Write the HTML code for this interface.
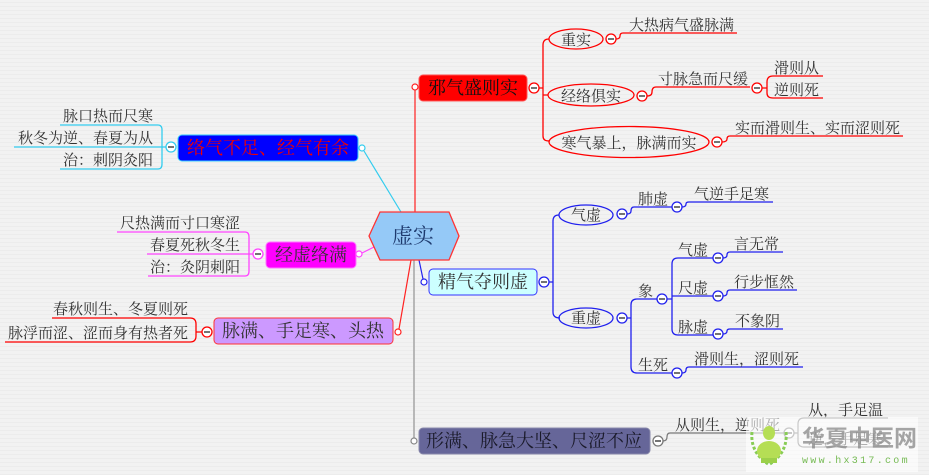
<!DOCTYPE html>
<html><head><meta charset="utf-8"><style>
html,body{margin:0;padding:0;background:#f1f1f1;}
svg{display:block}
text{font-family:"Liberation Serif","Noto Serif CJK SC",serif;fill:#333;}
.n{font-size:18px;text-anchor:middle;}
.l{font-size:15px;}
.e{font-size:15px;text-anchor:end;}
.c{font-size:15px;text-anchor:middle;}
</style></head><body>
<svg width="929" height="475" viewBox="0 0 929 475" xmlns="http://www.w3.org/2000/svg">
<defs>
<pattern id="bg" width="4" height="4" patternUnits="userSpaceOnUse">
<rect width="4" height="4" fill="#f2f2f2"/><rect y="2" width="4" height="1" fill="#ececec"/>
</pattern>
</defs>
<rect width="929" height="475" fill="url(#bg)"/>

<!-- center connectors -->
<g fill="none" stroke-width="1.2">
<line x1="415" y1="212" x2="415" y2="90" stroke="#ff2222"/>
<line x1="401" y1="212" x2="364" y2="151" stroke="#33ccee"/>
<line x1="378" y1="245" x2="362" y2="253" stroke="#ff44ff"/>
<line x1="411" y1="260" x2="399" y2="329" stroke="#ff2222"/>
<line x1="419" y1="260" x2="423" y2="279" stroke="#2222ee"/>
<line x1="414" y1="260" x2="414" y2="438" stroke="#aaaaaa" stroke-width="1.6"/>
</g>
<g fill="#fff" stroke-width="1.2">
<circle cx="415" cy="87" r="3" stroke="#ff2222"/>
<circle cx="362" cy="148" r="3" stroke="#33ccee"/>
<circle cx="359" cy="254" r="3" stroke="#ff44ff"/>
<circle cx="398" cy="332" r="3" stroke="#ff2222"/>
<circle cx="424" cy="282" r="3" stroke="#2222ee"/>
<circle cx="414" cy="441" r="3" stroke="#888"/>
</g>

<!-- hexagon -->
<polygon points="369,236 380,212 449,212 459,236 449,260 380,260" fill="#95c9f7" stroke="#ff3333" stroke-width="1.3"/>
<text x="413" y="243" style="font-size:21px;text-anchor:middle;fill:#1e3a6e">虚实</text>

<!-- ===== Red top branch ===== -->
<rect x="419" y="75" width="108" height="26" rx="4" fill="#ff0000" stroke="#ff5555"/>
<text class="n" x="473" y="94" style="fill:#111">邪气盛则实</text>
<g fill="none" stroke="#ff0000" stroke-width="1.3">
<path d="M539,88 L543,88 M549,39 Q543,39 543,45 L543,136 Q543,141 549,141 M543,95 L548,95"/>
<ellipse cx="576" cy="39" rx="27" ry="10"/>
<ellipse cx="591" cy="95" rx="43" ry="11"/>
<ellipse cx="629" cy="142" rx="80" ry="15.5"/>
<path d="M616,39 Q620,39 620,36 Q620,33 623,33 L737,33"/>
<path d="M647,96 Q652,96 652,92 Q652,87 656,87 L750,87"/>
<path d="M762,88 L767,88 M773,76 Q767,76 767,82 L767,93 Q767,98 773,98 L823,98 M773,76 L823,76"/>
<path d="M722,142 Q727,142 727,139 Q727,136 730,136 L903,136"/>
</g>
<text class="c" x="576" y="45">重实</text>
<text class="c" x="591" y="101">经络俱实</text>
<text class="c" x="629" y="148">寒气暴上，脉满而实</text>
<text class="l" x="629" y="30">大热病气盛脉满</text>
<text class="l" x="658" y="84">寸脉急而尺缓</text>
<text class="l" x="774" y="73">滑则从</text>
<text class="l" x="774" y="95">逆则死</text>
<text class="l" x="735" y="133">实而滑则生、实而涩则死</text>

<!-- ===== Blue branch ===== -->
<rect x="429" y="269" width="108" height="26" rx="4" fill="#ccffff" stroke="#3333ff"/>
<text class="n" x="483" y="288">精气夺则虚</text>
<g fill="none" stroke="#2020ee" stroke-width="1.3">
<path d="M549,282 L553,282 M559,215 Q553,215 553,221 L553,312 Q553,318 560,318"/>
<ellipse cx="586" cy="215" rx="27" ry="10"/>
<ellipse cx="586" cy="318" rx="27" ry="10"/>
<path d="M627,214 Q631,214 631,211 Q631,207 634,207 L673,207"/>
<path d="M682,207 Q686,207 686,204 Q686,202 689,202 L773,202"/>
<path d="M627,318 L631,318 M637,299 Q631,299 631,305 L631,367 Q631,373 637,373 L673,373 M637,299 L657,299"/>
<path d="M667,299 L672,299 M678,258 Q672,258 672,264 L672,329 Q672,335 678,335 L713,335 M678,258 L713,258 M672,296 L713,296"/>
<path d="M723,258 Q727,258 727,255 Q727,252 730,252 L783,252"/>
<path d="M723,296 Q727,296 727,293 Q727,290 730,290 L797,290"/>
<path d="M723,334 Q727,334 727,331 Q727,329 730,329 L783,329"/>
<path d="M682,373 Q686,373 686,370 Q686,367 689,367 L803,367"/>
</g>
<text class="c" x="586" y="220">气虚</text>
<text class="c" x="586" y="323">重虚</text>
<text class="l" x="638" y="204">肺虚</text>
<text class="l" x="694" y="199">气逆手足寒</text>
<text class="l" x="638" y="296">象</text>
<text class="l" x="678" y="255">气虚</text>
<text class="l" x="678" y="293">尺虚</text>
<text class="l" x="678" y="332">脉虚</text>
<text class="l" x="734" y="249">言无常</text>
<text class="l" x="734" y="287">行步恇然</text>
<text class="l" x="735" y="326">不象阴</text>
<text class="l" x="638" y="370">生死</text>
<text class="l" x="694" y="364">滑则生，涩则死</text>

<!-- ===== Gray bottom branch ===== -->
<rect x="419" y="428" width="231" height="26" rx="4" fill="#666699" stroke="#8888aa"/>
<text class="n" x="534" y="447" style="fill:#1a1a2a">形满、脉急大坚、尺涩不应</text>
<g fill="none" stroke="#777" stroke-width="1.2">
<path d="M663,441 Q667,441 667,437 Q667,433 670,433 L784,433"/>
<path d="M794,433 L798,433 M804,418 Q798,418 798,424 L798,441 Q798,447 804,447 L888,447 M804,418 L888,418"/>
</g>
<text class="l" x="675" y="430">从则生，逆则死</text>
<text class="l" x="808" y="415">从，手足温</text>
<text class="l" x="808" y="444">逆，手足寒</text>

<!-- ===== Cyan left branch ===== -->
<rect x="178" y="135" width="180" height="26" rx="4" fill="#0000ff" stroke="#33ccff"/>
<text class="n" x="268" y="154" style="fill:#ee0000">络气不足、经气有余</text>
<g fill="none" stroke="#33ccee" stroke-width="1.3">
<path d="M166,147 L14,147 M158,125 Q162,125 162,130 L162,164 Q162,169 158,169 L60,169 M158,125 L60,125"/>
</g>
<text class="e" x="153" y="121">脉口热而尺寒</text>
<text class="e" x="153" y="143">秋冬为逆、春夏为从</text>
<text class="e" x="153" y="165">治：刺阴灸阳</text>

<!-- ===== Magenta branch ===== -->
<rect x="266" y="242" width="90" height="26" rx="4" fill="#ff00ff" stroke="#ff77ff"/>
<text class="n" x="311" y="261">经虚络满</text>
<g fill="none" stroke="#ff44ff" stroke-width="1.3">
<path d="M253,254 L147,254 M245,232 Q249,232 249,237 L249,271 Q249,276 245,276 L148,276 M245,232 L117,232"/>
</g>
<text class="e" x="240" y="228">尺热满而寸口寒涩</text>
<text class="e" x="240" y="250">春夏死秋冬生</text>
<text class="e" x="240" y="272">治：灸阴刺阳</text>

<!-- ===== Red left branch ===== -->
<rect x="214" y="318" width="179" height="26" rx="4" fill="#cc99ff" stroke="#ff3333"/>
<text class="n" x="303" y="337">脉满、手足寒、头热</text>
<g fill="none" stroke="#ff0000" stroke-width="1.3">
<path d="M202,332 L196,332 M190,318 Q196,318 196,324 L196,336 Q196,342 190,342 L5,342 M190,318 L52,318"/>
</g>
<text class="e" x="188" y="314">春秋则生、冬夏则死</text>
<text class="e" x="188" y="338">脉浮而涩、涩而身有热者死</text>

<!-- collapse circles -->
<g stroke-width="1.3">
<g fill="#fff" stroke="#ff0000">
<circle cx="534" cy="88" r="5"/><circle cx="611" cy="39" r="5"/><circle cx="642" cy="96" r="5"/>
<circle cx="757" cy="88" r="5"/><circle cx="717" cy="142" r="5"/><circle cx="207" cy="332" r="5"/>
</g>
<g fill="#fff" stroke="#2020ee">
<circle cx="544" cy="282" r="5"/><circle cx="622" cy="214" r="5"/><circle cx="677" cy="207" r="5"/>
<circle cx="622" cy="318" r="5"/><circle cx="662" cy="299" r="5"/><circle cx="718" cy="258" r="5"/>
<circle cx="718" cy="296" r="5"/><circle cx="718" cy="334" r="5"/><circle cx="677" cy="373" r="5"/>
</g>
<circle cx="171" cy="147" r="5" fill="#fff" stroke="#33ccee"/>
<circle cx="258" cy="254" r="5" fill="#fff" stroke="#ff44ff"/>
<circle cx="658" cy="441" r="5" fill="#fff" stroke="#777"/>
<circle cx="789" cy="433" r="5" fill="#fff" stroke="#777"/>
</g>
<g stroke="#222" stroke-width="1.3">
<path d="M531,88h6M608,39h6M639,96h6M754,88h6M714,142h6M204,332h6M541,282h6M619,214h6M674,207h6M619,318h6M659,299h6M715,258h6M715,296h6M715,334h6M674,373h6M168,147h6M255,254h6M655,441h6M786,433h6"/>
</g>

<!-- watermark -->
<g>
<rect x="746" y="417" width="172" height="55" fill="#ffffff" opacity="0.6"/>
<path d="M752,432 Q750,452 768,464 M786,432 Q788,452 770,464" fill="none" stroke="#88cc55" stroke-width="3" stroke-dasharray="3,2"/>
<ellipse cx="769" cy="433" rx="6" ry="7" fill="#b5de55"/>
<ellipse cx="769" cy="451" rx="12" ry="10" fill="#b5de55"/>
<rect x="761" y="458" width="16" height="5" fill="#9cd04a"/>
<text x="802" y="446" style="font-family:'Liberation Sans','Noto Sans CJK SC',sans-serif;font-size:23px;font-weight:bold;fill:#888;opacity:0.75;letter-spacing:0px">华夏中医网</text>
<text x="802" y="463" style="font-family:'Liberation Mono',monospace;font-size:10px;fill:#77bb55;letter-spacing:2.3px">www.hx317.com</text>
</g>
</svg>
</body></html>
